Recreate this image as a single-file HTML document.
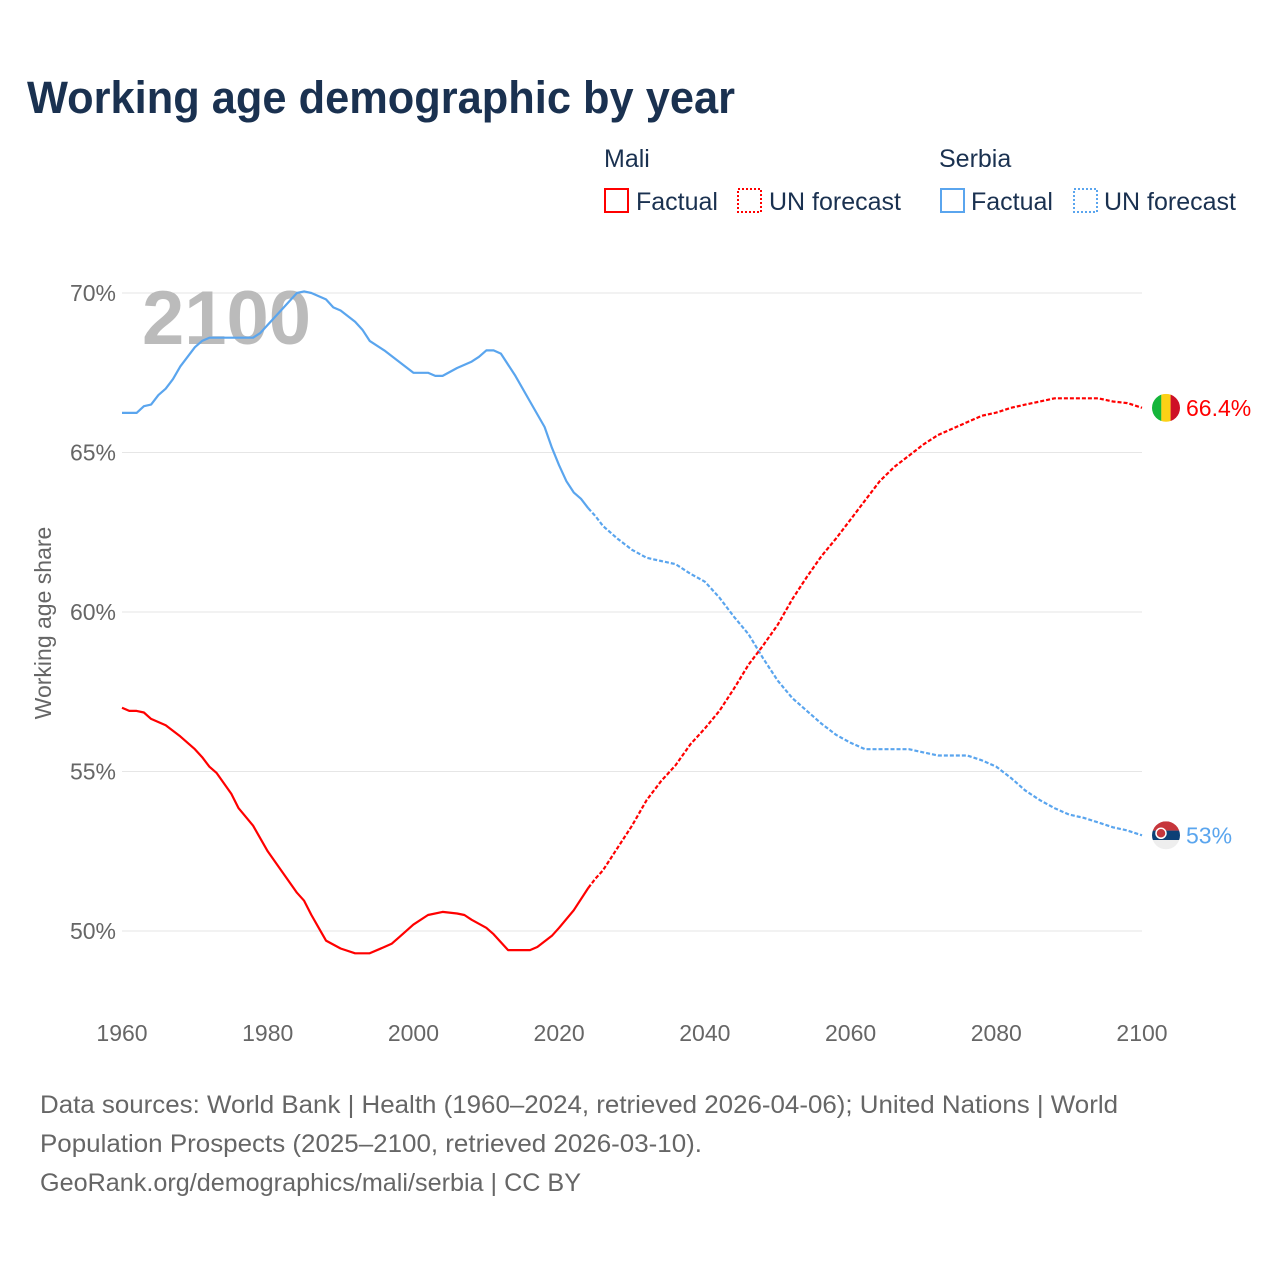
<!DOCTYPE html>
<html><head><meta charset="utf-8"><style>
body{margin:0;background:#fff;font-family:"Liberation Sans",sans-serif;}
svg text{font-family:"Liberation Sans",sans-serif;}
</style></head><body>
<svg id="chart" width="1280" height="1280" viewBox="0 0 1280 1280" xmlns="http://www.w3.org/2000/svg">
<defs>
<clipPath id="cm"><circle cx="1166" cy="406" r="14"/></clipPath>
<clipPath id="cs"><circle cx="1166" cy="835" r="14"/></clipPath>
</defs>
<rect width="1280" height="1280" fill="#fff"/>
<text x="27" y="113" font-size="45" font-weight="bold" fill="#1a3150" textLength="708" lengthAdjust="spacingAndGlyphs">Working age demographic by year</text>
<g font-size="25" fill="#1a3150">
<text x="604" y="167">Mali</text>
<g><rect x="605" y="189" width="23" height="23" fill="none" stroke="#f00" stroke-width="2"/><text x="636" y="210">Factual</text></g>
<g><rect x="738" y="189" width="23" height="23" fill="none" stroke="#f00" stroke-width="2" stroke-dasharray="2,2"/><text x="769" y="210">UN forecast</text></g>
<text x="939" y="167">Serbia</text>
<g><rect x="941" y="189" width="23" height="23" fill="none" stroke="#5aa5ee" stroke-width="2"/><text x="971" y="210">Factual</text></g>
<g><rect x="1074" y="189" width="23" height="23" fill="none" stroke="#5aa5ee" stroke-width="2" stroke-dasharray="2,2"/><text x="1104" y="210">UN forecast</text></g>
</g>
<text transform="translate(51,623) rotate(-90)" text-anchor="middle" font-size="23" fill="#666">Working age share</text>
<g id="grid"></g>
<text x="142" y="344" font-size="76" font-weight="bold" fill="#bbb">2100</text>
<g id="series"></g>
<g font-size="25" fill="#666">
<text x="40" y="1113" textLength="1078" lengthAdjust="spacingAndGlyphs">Data sources: World Bank | Health (1960–2024, retrieved 2026-04-06); United Nations | World</text>
<text x="40" y="1152" textLength="662" lengthAdjust="spacingAndGlyphs">Population Prospects (2025–2100, retrieved 2026-03-10).</text>
<text x="40" y="1191" textLength="541" lengthAdjust="spacingAndGlyphs">GeoRank.org/demographics/mali/serbia | CC BY</text>
</g>
</svg>
<script>
const xTicks=[1960,1980,2000,2020,2040,2060,2080,2100];
const yTicks=[50,55,60,65,70];
const maliYears=[1960,1961,1962,1963,1964,1966,1968,1970,1971,1972,1973,1975,1976,1978,1980,1982,1984,1985,1986,1987,1988,1990,1992,1994,1996,1997,1998,2000,2002,2004,2006,2007,2008,2010,2011,2012,2013,2016,2017,2019,2020,2022,2024,2025,2026,2028,2030,2032,2034,2036,2038,2040,2042,2044,2046,2048,2050,2052,2054,2056,2058,2060,2062,2064,2066,2068,2070,2072,2074,2076,2078,2080,2082,2084,2086,2088,2090,2094,2096,2098,2100];
const maliValues=[57.0,56.9,56.9,56.85,56.65,56.45,56.1,55.7,55.45,55.15,54.95,54.3,53.85,53.3,52.5,51.85,51.2,50.95,50.5,50.1,49.7,49.45,49.3,49.3,49.5,49.6,49.8,50.2,50.5,50.6,50.55,50.5,50.35,50.1,49.9,49.65,49.4,49.4,49.5,49.85,50.1,50.65,51.35,51.65,51.9,52.6,53.3,54.1,54.7,55.2,55.85,56.35,56.9,57.6,58.35,58.95,59.6,60.4,61.1,61.75,62.3,62.9,63.5,64.1,64.55,64.9,65.25,65.55,65.75,65.95,66.15,66.25,66.4,66.5,66.6,66.7,66.7,66.7,66.6,66.55,66.4];
const serbiaYears=[1960,1962,1963,1964,1965,1966,1967,1968,1969,1970,1971,1972,1975,1978,1979,1980,1982,1984,1985,1986,1988,1989,1990,1992,1993,1994,1996,1998,2000,2002,2003,2004,2006,2008,2009,2010,2011,2012,2014,2016,2018,2019,2020,2021,2022,2023,2024,2025,2026,2028,2030,2032,2034,2036,2038,2040,2042,2044,2046,2048,2050,2052,2054,2056,2058,2060,2062,2064,2068,2070,2072,2076,2078,2080,2082,2084,2086,2088,2090,2092,2094,2096,2098,2100];
const serbiaValues=[66.24,66.24,66.45,66.5,66.8,67.0,67.3,67.7,68.0,68.3,68.5,68.6,68.6,68.6,68.75,69.0,69.5,70.0,70.05,70.0,69.8,69.55,69.45,69.1,68.85,68.5,68.2,67.85,67.5,67.5,67.4,67.4,67.65,67.85,68.0,68.2,68.2,68.1,67.4,66.6,65.8,65.15,64.6,64.1,63.75,63.55,63.25,63.0,62.7,62.3,61.95,61.7,61.6,61.5,61.2,60.95,60.45,59.85,59.3,58.55,57.85,57.3,56.9,56.5,56.15,55.9,55.7,55.7,55.7,55.6,55.5,55.5,55.35,55.15,54.8,54.4,54.1,53.85,53.65,53.55,53.4,53.25,53.15,53.0];
const lastFactual=2024;
const X=y=>122+(y-1960)*(1020/140);
const Y=v=>931-(v-50)*31.9;
const NS="http://www.w3.org/2000/svg";
const grid=document.getElementById('grid');
function mk(tag,attrs,parent){const e=document.createElementNS(NS,tag);for(const k in attrs)e.setAttribute(k,attrs[k]);parent.appendChild(e);return e;}
yTicks.forEach(t=>{
  const l=mk('line',{x1:122,x2:1142,y1:Y(t),y2:Y(t),stroke:'#e6e6e6','stroke-width':1},grid);
  
  
  const tx=mk('text',{x:116,y:Y(t)+8,'text-anchor':'end','font-size':23,fill:'#666'},grid);
  tx.textContent=t+'%';
  
  
});
xTicks.forEach(t=>{
  const tx=mk('text',{x:X(t),y:1041,'text-anchor':'middle','font-size':23,fill:'#666'},grid);
  tx.textContent=t;
  
  
});
const ser=document.getElementById('series');
function draw(years,vals,color,name){
  const f=[],p=[];
  years.forEach((y,i)=>{const pt=X(y).toFixed(1)+','+Y(vals[i]).toFixed(1);if(y<=lastFactual)f.push(pt);if(y>=lastFactual)p.push(pt);});
  const a=mk('polyline',{points:f.join(' '),fill:'none',stroke:color,'stroke-width':2.2,'stroke-linejoin':'round'},ser);
  
  
  const b=mk('polyline',{points:p.join(' '),fill:'none',stroke:color,'stroke-width':2.2,'stroke-dasharray':'4,2'},ser);
  
  
}
draw(serbiaYears,serbiaValues,'#5aa5ee','serbia');
draw(maliYears,maliValues,'#f00','mali');
const mv=maliValues[maliValues.length-1], sv=serbiaValues[serbiaValues.length-1];
const my=Y(mv), sy=Y(sv);
document.querySelector('#cm circle').setAttribute('cy',my);
document.querySelector('#cs circle').setAttribute('cy',sy);
const mg=mk('g',{'clip-path':'url(#cm)'},ser);


mk('rect',{x:1152,y:my-14,width:9.4,height:28,fill:'#14b53a'},mg);
mk('rect',{x:1161.3,y:my-14,width:9.4,height:28,fill:'#fcd116'},mg);
mk('rect',{x:1170.6,y:my-14,width:9.4,height:28,fill:'#ce1126'},mg);
const ml=mk('text',{x:1186,y:my+8,'font-size':23,fill:'#f00'},ser);
ml.textContent=mv+'%';


const sg=mk('g',{'clip-path':'url(#cs)'},ser);


mk('rect',{x:1152,y:sy-14,width:28,height:9.4,fill:'#c6363c'},sg);
mk('rect',{x:1152,y:sy-4.7,width:28,height:9.4,fill:'#0c4076'},sg);
mk('rect',{x:1152,y:sy+4.7,width:28,height:9.4,fill:'#eee'},sg);
mk('circle',{cx:1161,cy:sy-2,r:5,fill:'#c6363c',stroke:'#fff','stroke-width':1.5},sg);
const sl=mk('text',{x:1186,y:sy+8,'font-size':23,fill:'#5aa5ee'},ser);
sl.textContent=sv+'%';


</script>
</body></html>
